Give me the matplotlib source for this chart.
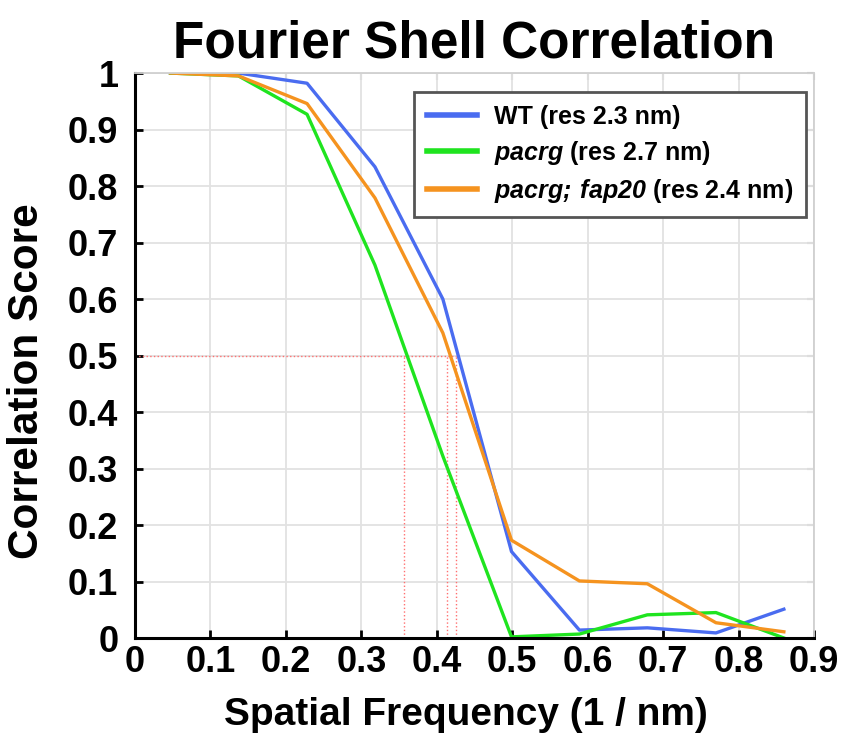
import matplotlib
matplotlib.use('Agg')
import matplotlib.pyplot as plt

plt.rcParams['font.family'] = ['Liberation Sans', 'DejaVu Sans']
plt.rcParams['mathtext.fontset'] = 'custom'
plt.rcParams['mathtext.bfit'] = 'Liberation Sans:bold:italic'
plt.rcParams['mathtext.bf'] = 'Liberation Sans:bold'

# spatial frequency samples (1/nm)
freq = [0.047, 0.137, 0.228, 0.318, 0.408, 0.499, 0.589, 0.679, 0.770, 0.860]
wt = [1.0, 1.0, 0.982, 0.834, 0.60, 0.153, 0.014, 0.018, 0.009, 0.051]
pacrg = [1.0, 0.995, 0.927, 0.66, 0.322, 0.002, 0.007, 0.041, 0.045, 0.0]
pacrg_fap20 = [1.0, 0.995, 0.946, 0.779, 0.54, 0.173, 0.101, 0.096, 0.027, 0.011]

labels = ['WT (res 2.3 nm)',
          r'$\mathbfit{pacrg}$ (res 2.7 nm)',
          r'$\mathbfit{pacrg;\,fap20}$ (res 2.4 nm)']
colors = ['#4a6cf0', '#1fe41f', '#f5931f']

# where each curve crosses 0.5
cross = [0.425, 0.357, 0.413]

xticks = [0, 0.1, 0.2, 0.3, 0.4, 0.5, 0.6, 0.7, 0.8, 0.9]
yticks = [0, 0.1, 0.2, 0.3, 0.4, 0.5, 0.6, 0.7, 0.8, 0.9, 1]

fig = plt.figure(figsize=(8.44, 7.38), dpi=100)
ax = fig.add_axes([0.16, 0.1355, 0.8045, 0.7655])

ax.grid(True, color='#e2e2e2', linewidth=1.3)
ax.set_axisbelow(True)

ax.plot([0, max(cross)], [0.5, 0.5], color='#ff7070', linestyle=':', linewidth=1)
for c in cross:
    ax.plot([c, c], [0, 0.5], color='#ff7070', linestyle=':', linewidth=1)

for series, lab, col in zip([wt, pacrg, pacrg_fap20], labels, colors):
    ax.plot(freq, series, color=col, linewidth=2.4, label=lab)

ax.set_xlim(0, 0.9)
ax.set_ylim(0, 1)
ax.set_xticks(xticks)
ax.set_yticks(yticks)
ax.set_xticklabels(['%g' % t for t in xticks])
ax.set_yticklabels(['%g' % t for t in yticks])
ax.tick_params(axis='both', direction='in', length=6, width=2, labelsize=26)
ax.tick_params(axis='x', pad=5)
ax.tick_params(axis='y', pad=12)
for t in ax.get_xticklabels() + ax.get_yticklabels():
    t.set_fontweight('bold')

for s in ['bottom', 'left']:
    ax.spines[s].set_linewidth(2.2)
    ax.spines[s].set_color('black')
for s in ['top', 'right']:
    ax.spines[s].set_linewidth(1.3)
    ax.spines[s].set_color('#d0d0d0')

top = ax.secondary_xaxis('top')
top.set_xticks(xticks)
top.tick_params(direction='in', length=5, width=1.5, color='#b0b0b0', labeltop=False)
top.spines['top'].set_visible(False)
right = ax.secondary_yaxis('right')
right.set_yticks(yticks)
right.tick_params(direction='in', length=5, width=1.5, color='#b0b0b0', labelright=False)
right.spines['right'].set_visible(False)

ax.set_xlabel('Spatial Frequency (1 / nm)', fontsize=28, fontweight='bold', labelpad=12)
ax.xaxis.label.set_x(0.487)
ax.set_ylabel('Correlation Score', fontsize=30.5, fontweight='bold', labelpad=15)
ax.yaxis.label.set_y(0.455)
ax.set_title('Fourier Shell Correlation', fontsize=37, fontweight='bold', pad=11)

leg = ax.legend(loc='upper right', bbox_to_anchor=(0.988, 0.966), borderaxespad=0,
                prop={'size': 18, 'weight': 'bold'}, fancybox=False, framealpha=1,
                handlelength=2.0, handletextpad=0.7, borderpad=0.5, labelspacing=0.4)
leg.get_frame().set_edgecolor('#555555')
leg.get_frame().set_linewidth(2)
for h in leg.get_lines():
    h.set_linewidth(4)

fig.savefig('out.png', dpi=100)
